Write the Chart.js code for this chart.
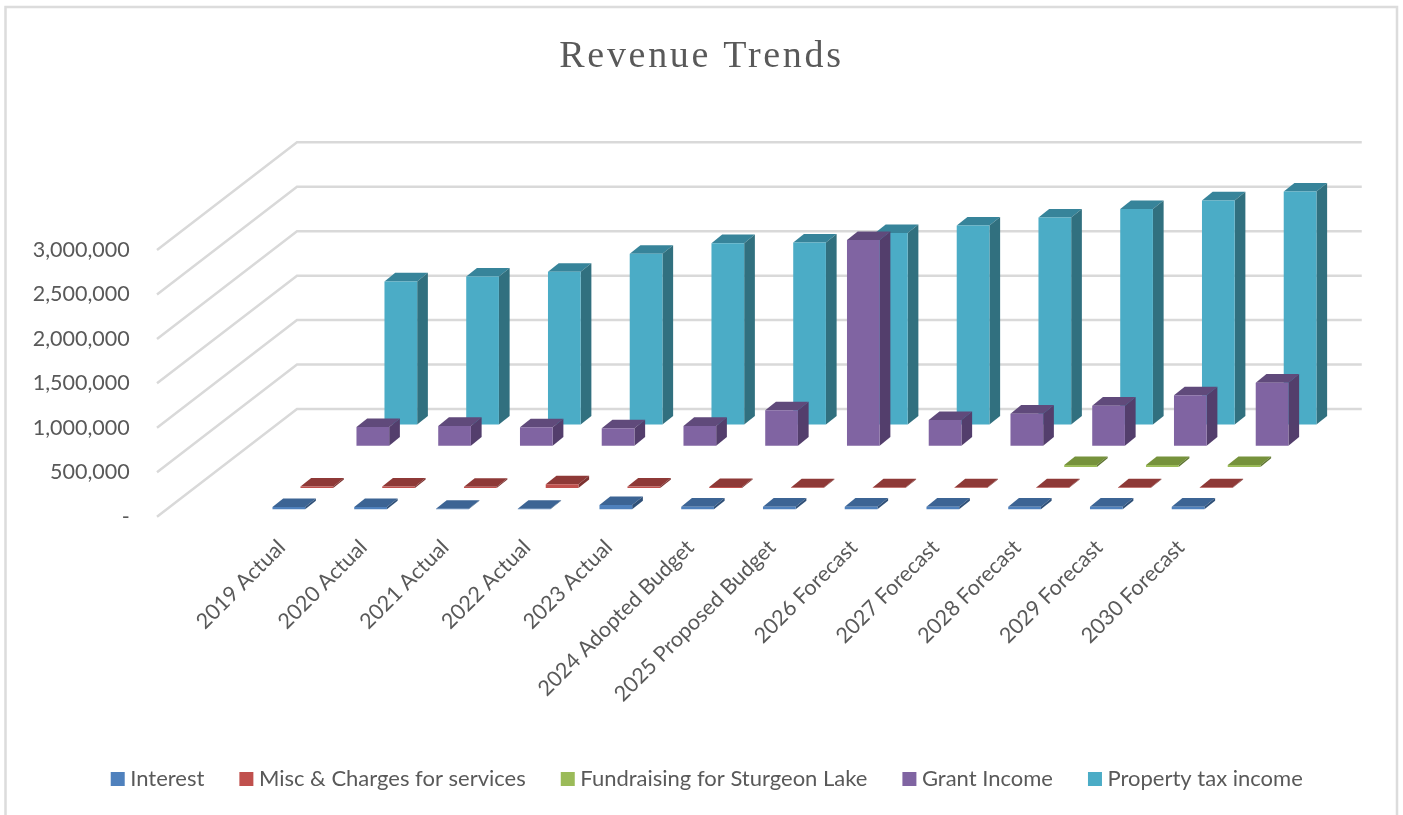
<!DOCTYPE html>
<html>
<head>
<meta charset="utf-8">
<title>Revenue Trends</title>
<script src="https://cdn.jsdelivr.net/npm/chart.js@4/dist/chart.umd.min.js"></script>
<style>
html, body { margin: 0; padding: 0; background: #fff; overflow: hidden; }
canvas { display: block; }
</style>
</head>
<body>
<canvas id="revenueChart" width="1403" height="815"></canvas>
<script>
const categories = ['2019 Actual', '2020 Actual', '2021 Actual', '2022 Actual', '2023 Actual', '2024 Adopted Budget',
    '2025 Proposed Budget', '2026 Forecast', '2027 Forecast', '2028 Forecast', '2029 Forecast', '2030 Forecast'];

const interest = [26000, 26000, 5000, 5000, 48000, 30000, 30000, 30000, 30000, 30000, 30000, 30000];
const miscCharges = [17000, 17000, 15000, 42000, 18000, 12000, 8000, 8000, 8000, 8000, 8000, 8000];
const fundraising = [null, null, null, null, null, null, null, null, null, 20000, 20000, 20000];
const grantIncome = [210000, 222000, 207000, 196000, 222000, 398000, 2314000, 289000, 360000, 450000, 567000, 709000];
const propertyTax = [1609000, 1665000, 1718000, 1920000, 2040000, 2047000, 2153000, 2238000, 2328000, 2423000, 2520000, 2621000];

const TEXT = '#595959';
const GRID = '#d9d9d9';
const PLOT_BOTTOM = 516.7;
const PAD_BOTTOM = 15;
const PAD_LEFT = 16;

// wall depth and where each series sits on the floor, in pixels
const WALL_X = 140, WALL_Y = 107.7;
const DEPTH_X = 10.7, DEPTH_Y = 8.6;
const SERIES_X0 = 9.2, SERIES_XSTEP = 28;
const SERIES_Y0 = 7.4, SERIES_YSTEP = 21.2;

function series(label, data, front, top, side) {
    return {
        label: label, data: data, top3d: top, side3d: side,
        backgroundColor: front, borderColor: front,
        borderWidth: 11  // only the legend swatch uses this
    };
}

function poly(ctx, color, pts) {
    ctx.fillStyle = color;
    ctx.beginPath();
    ctx.moveTo(pts[0], pts[1]);
    for (let i = 2; i < pts.length; i += 2) ctx.lineTo(pts[i], pts[i + 1]);
    ctx.closePath();
    ctx.fill();
}

const walls3d = {
    id: 'walls3d',
    beforeDraw(chart) {
        const ctx = chart.ctx, area = chart.chartArea, y = chart.scales.y;
        const slot = (area.right - area.left) / categories.length;
        const left = area.left - slot;
        ctx.save();
        // chart frame, open at the bottom of the page
        ctx.strokeStyle = '#dcdcdc';
        ctx.lineWidth = 2.5;
        ctx.beginPath();
        ctx.moveTo(5.5, 830);
        ctx.lineTo(5.5, 7);
        ctx.lineTo(1397, 7);
        ctx.lineTo(1397, 830);
        ctx.stroke();
        // side wall and back wall lines
        ctx.strokeStyle = GRID;
        ctx.lineWidth = 2.5;
        y.ticks.forEach(t => {
            const py = y.getPixelForValue(t.value);
            ctx.beginPath();
            ctx.moveTo(left, py);
            ctx.lineTo(left + WALL_X, py - WALL_Y);
            ctx.lineTo(area.right + WALL_X + 2, py - WALL_Y);
            ctx.stroke();
        });
        ctx.restore();
    }
};

const bars3d = {
    id: 'bars3d',
    beforeDatasetsDraw(chart) {
        const ctx = chart.ctx;
        for (let i = chart.data.datasets.length - 1; i >= 0; i--) {
            const ds = chart.data.datasets[i];
            const ox = SERIES_X0 + SERIES_XSTEP * i;
            const oy = SERIES_Y0 + SERIES_YSTEP * i;
            chart.getDatasetMeta(i).data.forEach((bar, j) => {
                if (ds.data[j] === null) return;
                const x0 = bar.x - bar.width / 2 + ox, x1 = x0 + bar.width;
                const top = bar.y - oy, base = bar.base - oy;
                poly(ctx, ds.top3d, [x0, top, x1, top, x1 + DEPTH_X, top - DEPTH_Y, x0 + DEPTH_X, top - DEPTH_Y]);
                poly(ctx, ds.side3d, [x1, top, x1, base, x1 + DEPTH_X, base - DEPTH_Y, x1 + DEPTH_X, top - DEPTH_Y]);
                poly(ctx, ds.backgroundColor, [x0, top, x1, top, x1, base, x0, base]);
            });
        }
        return false;
    }
};

// the chart title is letter spaced in the original, and centred without the left padding
const spacedTitle = {
    id: 'spacedTitle',
    afterLayout(chart) {
        const t = chart.titleBlock;
        if (t.spaced) return;
        const draw = t.draw;
        t.draw = function() {
            chart.ctx.save();
            chart.ctx.translate(-PAD_LEFT / 2, 0);
            chart.ctx.letterSpacing = '2.7px';
            draw.call(t);
            chart.ctx.restore();
        };
        t.spaced = true;
    }
};

new Chart(document.getElementById('revenueChart').getContext('2d'), {
    type: 'bar',
    plugins: [walls3d, bars3d, spacedTitle],
    data: {
        labels: categories,
        datasets: [
            series('Interest', interest, '#4F81BD', '#3C6494', '#2F5078'),
            series('Misc & Charges for services', miscCharges, '#C0504D', '#8E3937', '#7D3230'),
            series('Fundraising for Sturgeon Lake', fundraising, '#9BBB59', '#76923C', '#5F7530'),
            series('Grant Income', grantIncome, '#8064A2', '#604A7B', '#533E6C'),
            series('Property tax income', propertyTax, '#4BACC6', '#37849A', '#31707F')
        ]
    },
    options: {
        responsive: false,
        animation: false,
        layout: { padding: { left: PAD_LEFT, bottom: PAD_BOTTOM } },
        datasets: { bar: { grouped: false, barThickness: 32.7 } },
        plugins: {
            tooltip: { enabled: false },
            title: {
                display: true,
                text: 'Revenue Trends',
                color: TEXT,
                font: { family: '"Liberation Serif"', size: 38, weight: 'normal', lineHeight: 1.2 },
                padding: { top: 34, bottom: 170.4 }
            },
            legend: {
                position: 'bottom',
                labels: {
                    color: TEXT,
                    font: { family: 'Lato', size: 22 },
                    boxWidth: 3,
                    boxHeight: 3,
                    padding: 40.5
                }
            }
        },
        scales: {
            x: {
                grid: { display: false },
                border: { display: false },
                ticks: {
                    color: TEXT,
                    font: { family: 'Lato', size: 21.5 },
                    autoSkip: false,
                    minRotation: 45,
                    maxRotation: 45,
                    padding: 10,
                    labelOffset: 2
                },
                afterFit(scale) {
                    scale.height = 815 - PAD_BOTTOM - scale.chart.legend.height - PLOT_BOTTOM;
                }
            },
            y: {
                min: 0,
                max: 3000000,
                grid: { display: false, drawTicks: false },
                border: { display: false },
                ticks: {
                    stepSize: 500000,
                    color: TEXT,
                    font: { family: 'Lato', size: 21.5 },
                    padding: 109,
                    callback: v => v === 0 ? '-' : v.toLocaleString('en-US')
                },
                afterFit(scale) { scale.width = 238.75 - PAD_LEFT; }
            },
            // spare room right of the floor, which the back wall runs into
            spare: {
                position: 'right',
                grid: { display: false },
                border: { display: false },
                ticks: { display: false },
                afterFit(scale) { scale.width = 183.25; }
            }
        }
    }
});
</script>
</body>
</html>
